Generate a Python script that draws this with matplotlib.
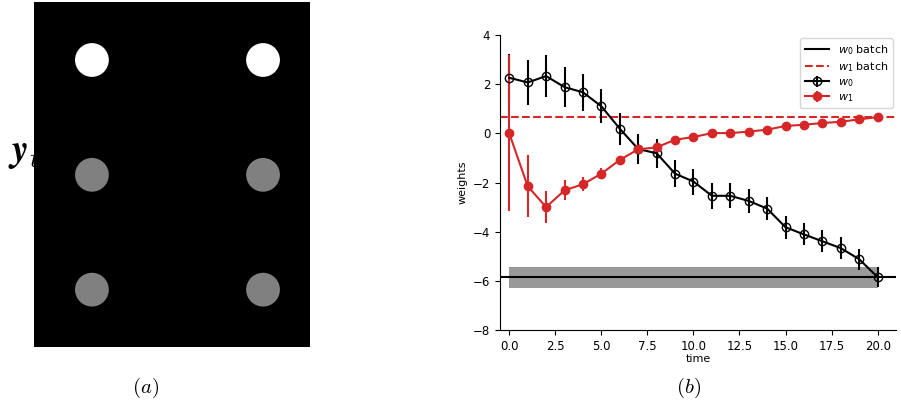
import numpy as np
import matplotlib
matplotlib.use("Agg")
import matplotlib.pyplot as plt
from matplotlib.patches import Circle

# panel (a): frame of pixel blobs, intensity per blob (rows top to bottom)
blob_cols = [0.21, 0.83]
blob_rows = [0.832, 0.499, 0.166]
blob_level = [[1.0, 1.0], [0.5, 0.5], [0.5, 0.5]]

# panel (b): online weights vs time
time = list(range(21))
w0 = [2.26, 2.07, 2.33, 1.88, 1.67, 1.10, 0.19, -0.64, -0.81, -1.64, -1.96,
      -2.54, -2.54, -2.75, -3.06, -3.82, -4.11, -4.39, -4.67, -5.12, -5.85]
w0_err = [0.95, 0.9, 0.85, 0.8, 0.75, 0.69, 0.65, 0.6, 0.59, 0.55, 0.53,
          0.52, 0.5, 0.49, 0.47, 0.46, 0.45, 0.44, 0.44, 0.42, 0.42]
w1 = [0.0, -2.15, -3.0, -2.32, -2.07, -1.64, -1.08, -0.65, -0.57, -0.26, -0.15,
      0.01, 0.01, 0.07, 0.15, 0.30, 0.35, 0.42, 0.47, 0.57, 0.66]
w1_err = [3.17, 1.25, 0.65, 0.41, 0.29, 0.22, 0.1, 0.06, 0.05, 0.04, 0.04,
          0.03, 0.03, 0.03, 0.03, 0.03, 0.03, 0.03, 0.03, 0.03, 0.03]
w0_batch = -5.85
w0_batch_std = 0.43
w1_batch = 0.66

red = "#d62728"

fig = plt.figure(figsize=(9.01, 4.12), dpi=100)

# ---- (a)
fig.text(0.009, 0.628, r"$\boldsymbol{y}_t$", fontsize=27, zorder=-1,
         va="center", ha="left", math_fontfamily="cm")
ax_a = fig.add_axes([0.0377, 0.158, 0.3063, 0.837])
ax_a.set_facecolor("black")
ax_a.set_xlim(0, 0.8)  # box is 276 x 345 px -> keep circles round
ax_a.set_ylim(0, 1)
for i, y in enumerate(blob_rows):
    for j, x in enumerate(blob_cols):
        g = blob_level[i][j]
        ax_a.add_patch(Circle((x * 0.8, y), 0.049, color=(g, g, g), ec="none"))
ax_a.set_xticks([])
ax_a.set_yticks([])
for s in ax_a.spines.values():
    s.set_visible(False)
fig.text(0.162, 0.028, r"$\mathit{(a)}$", fontsize=15, ha="center",
         va="bottom", math_fontfamily="cm")

# ---- (b)
ax = fig.add_axes([0.555, 0.199, 0.4395, 0.716])
ax.fill_between([time[0], time[-1]], w0_batch - w0_batch_std,
                w0_batch + w0_batch_std, color="0.6", lw=0)
ax.axhline(w0_batch, color="black", lw=1.5, label=r"$w_0$ batch")
ax.axhline(w1_batch, color=red, lw=1.5, ls="--", label=r"$w_1$ batch")
ax.errorbar(time, w0, yerr=w0_err, color="black", marker="o", mfc="none",
            ms=6, lw=1.5, elinewidth=1.5, label=r"$w_0$")
ax.errorbar(time, w1, yerr=w1_err, color=red, marker="o", ms=6, lw=1.5,
            elinewidth=1.5, label=r"$w_1$")
ax.set_xlim(-0.5, 21)
ax.set_ylim(-8, 4)
ax.set_xlabel("time", fontsize=8, labelpad=1)
ax.set_ylabel("weights", fontsize=8)
ax.tick_params(labelsize=8.5)
ax.spines["top"].set_visible(False)
ax.spines["right"].set_visible(False)
ax.legend(loc="upper right", fontsize=8, handlelength=2.2,
          labelspacing=0.3, borderaxespad=0.3)
fig.text(0.764, 0.028, r"$\mathit{(b)}$", fontsize=15, ha="center",
         va="bottom", math_fontfamily="cm")

fig.savefig("out.png", dpi=100)
